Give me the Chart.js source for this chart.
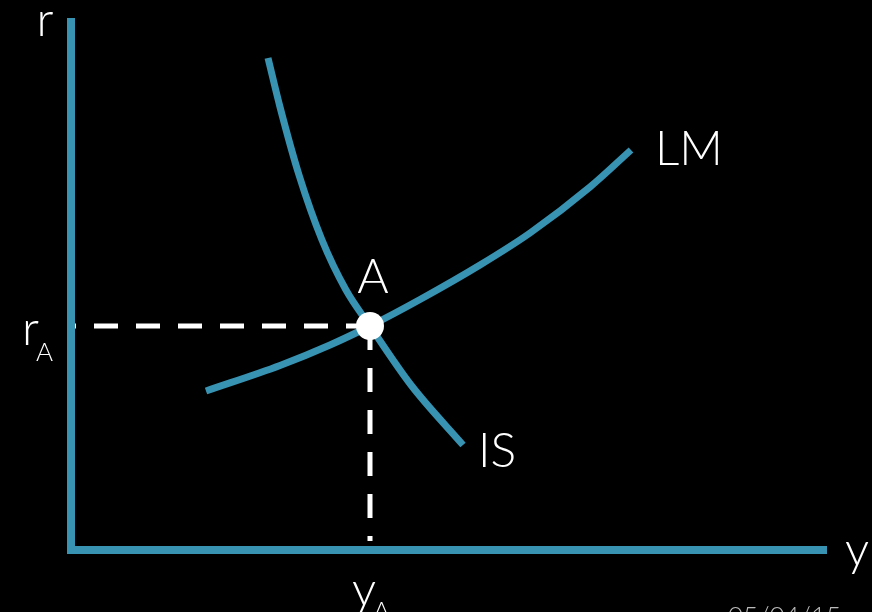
<!DOCTYPE html>
<html>
<head>
<meta charset="utf-8">
<script src="https://cdn.jsdelivr.net/npm/chart.js@4.4.0/dist/chart.umd.min.js"></script>
<style>
  html, body { margin: 0; padding: 0; background: #000; }
  canvas { display: block; }
</style>
</head>
<body>
<canvas id="islm" width="872" height="612"></canvas>
<script>
// IS-LM diagram, output y on x-axis, interest rate r on y-axis
const isX = [19.7, 20.9, 22.8, 25.1, 27.5, 29.9, 34.0, 39.2];
const isY = [49.2, 44.3, 37.5, 31.0, 26.0, 22.4, 16.5, 10.5];
const lmX = [13.5, 20.9, 25.9, 29.9, 34.9, 40.9, 45.9, 51.9, 56.0];
const lmY = [15.9, 18.45, 20.5, 22.4, 25.05, 28.5, 31.7, 36.3, 40.0];
const equilibrium = [29.9, 22.4];   // point A (yA, rA)
const axisEnd = [75.6, 53.2];       // length of the y and r axes
const footer = "05/04/15";

const TEAL = "#3893b3";
const FONT = "Lato, 'Open Sans', sans-serif";

const toPts = (xs, ys) => xs.map((x, i) => ({ x: x, y: ys[i] }));

const [ax, ay] = equilibrium;

const labelsPlugin = {
    id: "labels",
    beforeDraw(chart) {
        const c = chart.ctx;
        c.save();
        c.fillStyle = "#000";
        c.fillRect(0, 0, chart.width, chart.height);
        c.restore();
    },
    afterDatasetsDraw(chart) {
        const c = chart.ctx;
        const sx = chart.scales.x, sy = chart.scales.y;
        const px = v => sx.getPixelForValue(v);
        const py = v => sy.getPixelForValue(v);

        c.save();
        c.fillStyle = "#fff";
        c.textBaseline = "alphabetic";
        c.font = "300 48px " + FONT;

        // axis names
        c.textAlign = "center";
        c.fillText("r", px(0) - 26, py(axisEnd[1]) + 18);
        c.textAlign = "left";
        c.fillText("y", px(axisEnd[0]) + 18, py(0) + 16);

        // curve names
        c.fillText("LM", px(lmX[lmX.length - 1]) + 24, py(lmY[lmY.length - 1]) + 15);
        c.fillText("IS", px(isX[isX.length - 1]) + 15, py(isY[isY.length - 1]) + 22);

        // point A
        c.textAlign = "center";
        c.fillText("A", px(ax) + 3, py(ay) - 33);

        // rA and yA
        c.textAlign = "left";
        c.fillText("r", px(0) - 49, py(ay) + 19);
        c.fillText("y", px(ax) - 18, py(0) + 56);
        c.font = "300 26px " + FONT;
        c.fillText("A", px(0) - 35, py(ay) + 35);
        c.fillText("A", px(ax) + 3, py(0) + 70);

        // footer, mostly cut off at the bottom edge
        c.fillStyle = "#bbbbbb";
        c.font = "300 26px " + FONT;
        c.textBaseline = "top";
        c.fillText(footer, 728, 604);
        c.restore();
    }
};

new Chart(document.getElementById("islm"), {
    type: "scatter",
    data: {
        datasets: [
            {   // equilibrium point A
                data: [{ x: ax, y: ay }],
                pointRadius: 14,
                pointBackgroundColor: "#fff",
                pointBorderWidth: 0,
                showLine: false
            },
            {   // IS curve
                data: toPts(isX, isY),
                showLine: true,
                borderColor: TEAL,
                borderWidth: 7,
                borderCapStyle: "butt",
                cubicInterpolationMode: "monotone",
                pointRadius: 0
            },
            {   // LM curve
                data: toPts(lmX, lmY),
                showLine: true,
                borderColor: TEAL,
                borderWidth: 7,
                borderCapStyle: "butt",
                cubicInterpolationMode: "monotone",
                pointRadius: 0
            },
            {   // axes
                data: [{ x: 0, y: axisEnd[1] }, { x: 0, y: 0 }, { x: axisEnd[0], y: 0 }],
                showLine: true,
                borderColor: TEAL,
                borderWidth: 8,
                borderCapStyle: "butt",
                borderJoinStyle: "miter",
                tension: 0,
                pointRadius: 0
            },
            {   // dashed guide to rA
                data: [{ x: ax, y: ay }, { x: 0, y: ay }],
                showLine: true,
                borderColor: "#fff",
                borderWidth: 5,
                borderDash: [24, 18],
                tension: 0,
                pointRadius: 0
            },
            {   // dashed guide to yA
                data: [{ x: ax, y: ay }, { x: ax, y: 0.9 }],
                showLine: true,
                borderColor: "#fff",
                borderWidth: 5,
                borderDash: [24, 18],
                tension: 0,
                pointRadius: 0
            }
        ]
    },
    options: {
        responsive: false,
        animation: false,
        clip: false,
        layout: { padding: 0, autoPadding: false },
        plugins: {
            legend: { display: false },
            tooltip: { enabled: false }
        },
        scales: {
            x: { type: "linear", min: -7.1, max: 80.1, display: false },
            y: { type: "linear", min: -6.2, max: 55, display: false }
        }
    },
    plugins: [labelsPlugin]
});
</script>
</body>
</html>
